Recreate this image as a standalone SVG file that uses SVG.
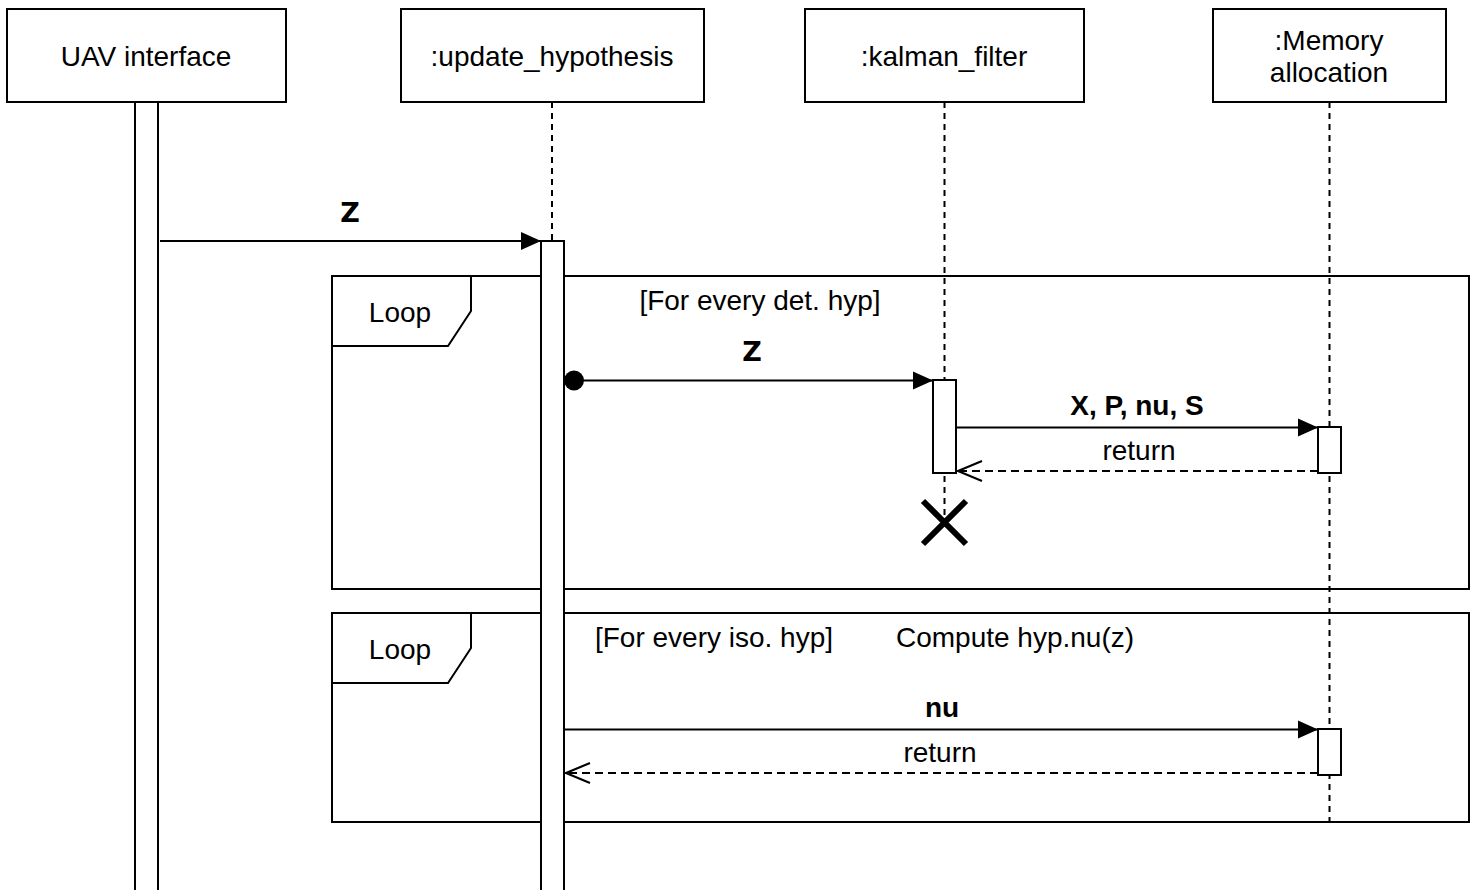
<svg xmlns="http://www.w3.org/2000/svg" width="1475" height="890" viewBox="0 0 1475 890">
  <style>
    .box { fill: #ffffff; stroke: #000000; stroke-width: 2; }
    .frame { fill: none; stroke: #000000; stroke-width: 2; }
    .life { fill: none; stroke: #000000; stroke-width: 2; stroke-dasharray: 6 5; }
    .msg { fill: none; stroke: #000000; stroke-width: 2; }
    .ret { fill: none; stroke: #000000; stroke-width: 2; stroke-dasharray: 8 5; }
    .t { font-family: "Liberation Sans", Arial, sans-serif; font-size: 28px; fill: #000000; text-anchor: middle; dominant-baseline: central; }
    .b { font-weight: bold; }
    .z { font-family: "DejaVu Sans", sans-serif; font-weight: bold; font-size: 27px; fill: #000000; text-anchor: middle; dominant-baseline: central; }
  </style>
  <defs>
    <marker id="filled" viewBox="0 0 20 20" refX="20" refY="10" markerWidth="20" markerHeight="20" markerUnits="userSpaceOnUse" orient="auto">
      <path d="M0,1 L20,10 L0,19 Z" fill="#000000"/>
    </marker>
    <marker id="open" viewBox="0 0 26 24" refX="25" refY="12" markerWidth="26" markerHeight="24" markerUnits="userSpaceOnUse" orient="auto">
      <path d="M1,2 L25,12 L1,22" fill="none" stroke="#000000" stroke-width="2"/>
    </marker>
  </defs>

  <rect width="1475" height="890" fill="#ffffff"/>

  <!-- combined fragments -->
  <g id="loop-det">
    <rect class="frame" x="332" y="276" width="1137" height="313"/>
    <path class="frame" d="M332,346 L448,346 L471,311 L471,276"/>
    <text class="t" x="400" y="312">Loop</text>
    <text class="t" x="760" y="300">[For every det. hyp]</text>
  </g>
  <g id="loop-iso">
    <rect class="frame" x="332" y="613" width="1137" height="209"/>
    <path class="frame" d="M332,683 L448,683 L471,648 L471,613"/>
    <text class="t" x="400" y="649">Loop</text>
    <text class="t" x="714" y="637">[For every iso. hyp]</text>
    <text class="t" x="1015" y="637">Compute hyp.nu(z)</text>
  </g>

  <!-- lifelines -->
  <g id="uav">
    <rect class="box" x="7" y="9" width="279" height="93"/>
    <text class="t" x="146" y="56">UAV interface</text>
    <rect class="box" x="135" y="102" width="23" height="800"/>
  </g>
  <g id="update-hypothesis">
    <rect class="box" x="401" y="9" width="303" height="93"/>
    <text class="t" x="552" y="56">:update_hypothesis</text>
    <line class="life" x1="552" y1="102" x2="552" y2="241"/>
    <rect class="box" x="541" y="241" width="23" height="660"/>
  </g>
  <g id="kalman-filter">
    <rect class="box" x="805" y="9" width="279" height="93"/>
    <text class="t" x="944" y="56">:kalman_filter</text>
    <line class="life" x1="944.5" y1="102" x2="944.5" y2="515"/>
    <rect class="box" x="933" y="380" width="23" height="93"/>
    <path d="M923,501 L966,544 M923,544 L966,501" stroke="#000000" stroke-width="6" fill="none"/>
  </g>
  <g id="memory-allocation">
    <rect class="box" x="1213" y="9" width="233" height="93"/>
    <text class="t" x="1329" y="40">:Memory</text>
    <text class="t" x="1329" y="72">allocation</text>
    <line class="life" x1="1329.5" y1="102" x2="1329.5" y2="822"/>
    <rect class="box" x="1318" y="427" width="23" height="46"/>
    <rect class="box" x="1318" y="729" width="23" height="46"/>
  </g>

  <!-- messages -->
  <g id="connectors">
    <line class="msg" x1="160" y1="241" x2="541" y2="241" marker-end="url(#filled)"/>
    <text class="z" x="350" y="212">Z</text>

    <circle cx="574" cy="380.5" r="10" fill="#000000"/>
    <line class="msg" x1="574" y1="380.5" x2="933" y2="380.5" marker-end="url(#filled)"/>
    <text class="z" x="752" y="351">Z</text>

    <line class="msg" x1="956" y1="427.5" x2="1318" y2="427.5" marker-end="url(#filled)"/>
    <text class="t b" x="1137" y="405">X, P, nu, S</text>

    <line class="ret" x1="1318" y1="471" x2="958" y2="471" marker-end="url(#open)"/>
    <text class="t" x="1139" y="450">return</text>

    <line class="msg" x1="564" y1="729.5" x2="1318" y2="729.5" marker-end="url(#filled)"/>
    <text class="t b" x="942" y="707">nu</text>

    <line class="ret" x1="1318" y1="773" x2="566" y2="773" marker-end="url(#open)"/>
    <text class="t" x="940" y="752">return</text>
  </g>
</svg>
